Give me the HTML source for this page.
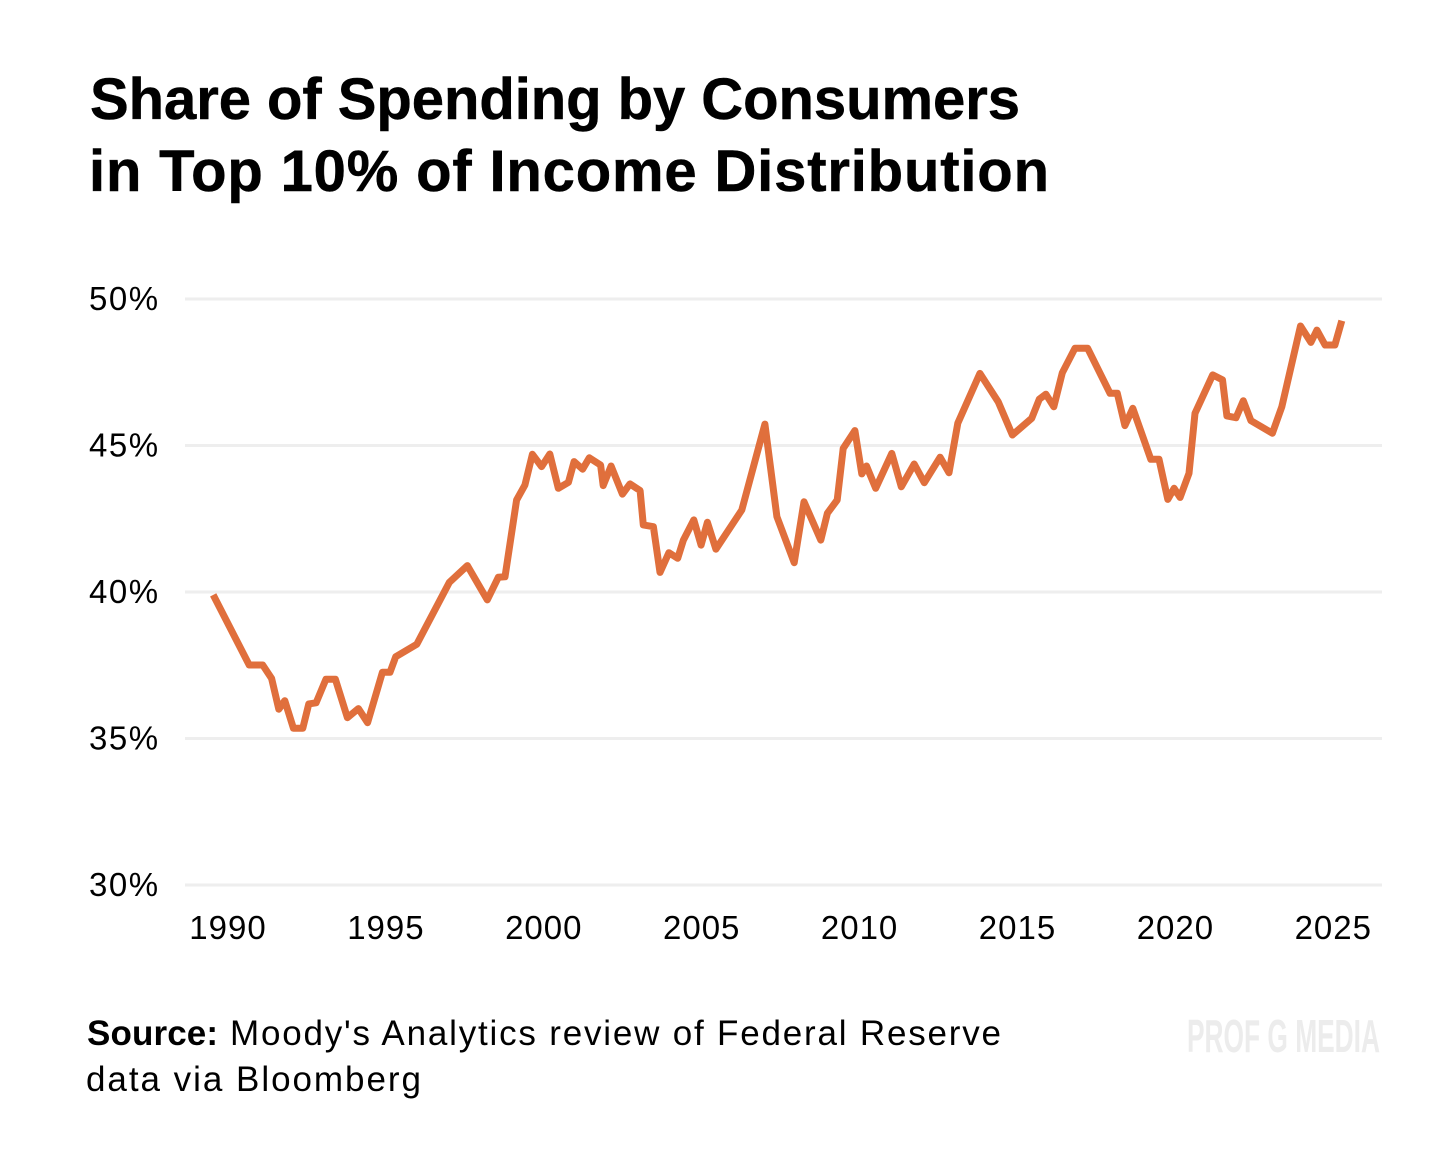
<!DOCTYPE html>
<html lang="en">
<head>
<meta charset="utf-8">
<title>Share of Spending by Consumers in Top 10% of Income Distribution</title>
<style>
html,body{margin:0;padding:0;background:#fff;}
body{width:1456px;height:1165px;overflow:hidden;}
svg{display:block;font-family:"Liberation Sans",sans-serif;}
</style>
</head>
<body>
<svg id="chart" width="1456" height="1165" viewBox="0 0 1456 1165" xmlns="http://www.w3.org/2000/svg">
  <rect width="1456" height="1165" fill="#ffffff"/>
  <text x="90" y="119" font-size="58" font-weight="700" fill="#000" stroke="#000" stroke-width="0.5" textLength="930" lengthAdjust="spacing">Share of Spending by Consumers</text>
  <text x="89" y="191" font-size="58" font-weight="700" fill="#000" stroke="#000" stroke-width="0.5" textLength="960" lengthAdjust="spacing">in Top 10% of Income Distribution</text>
  <g id="grid"></g>
  <g id="y-axis"></g>
  <g id="x-axis"></g>
  <path id="series" fill="none" stroke="#e06f3c" stroke-width="7" stroke-linejoin="round"/>
  <text x="87" y="1045" font-size="35" font-weight="700" fill="#000" textLength="131" lengthAdjust="spacing">Source:</text>
  <text x="230" y="1045" font-size="35" fill="#000" textLength="771" lengthAdjust="spacing">Moody's Analytics review of Federal Reserve</text>
  <text x="86" y="1091" font-size="35" fill="#000" textLength="335" lengthAdjust="spacing">data via Bloomberg</text>
  <text x="1187" y="1052" font-size="46" font-weight="700" fill="#ececec" textLength="193" lengthAdjust="spacingAndGlyphs">PROF G MEDIA</text>
</svg>
<script>
const years = [1989.53,1990.67,1991.10,1991.38,1991.61,1991.80,1992.07,1992.37,1992.56,1992.79,1993.10,1993.40,1993.78,1994.13,1994.42,1994.89,1995.13,1995.31,1995.98,1997.01,1997.58,1998.21,1998.56,1998.77,1999.14,1999.40,1999.64,1999.93,2000.19,2000.46,2000.78,2000.96,2001.23,2001.44,2001.80,2001.88,2002.13,2002.49,2002.73,2003.05,2003.15,2003.47,2003.68,2003.96,2004.24,2004.42,2004.75,2004.98,2005.18,2005.45,2006.27,2007.00,2007.38,2007.93,2008.24,2008.77,2008.98,2009.29,2009.48,2009.85,2010.07,2010.22,2010.51,2011.02,2011.32,2011.73,2012.05,2012.55,2012.83,2013.11,2013.81,2014.39,2014.84,2015.45,2015.69,2015.90,2016.15,2016.42,2016.82,2017.22,2017.93,2018.16,2018.40,2018.65,2019.22,2019.48,2019.76,2019.96,2020.15,2020.43,2020.62,2021.18,2021.49,2021.63,2021.92,2022.15,2022.39,2023.07,2023.37,2023.96,2024.29,2024.48,2024.74,2025.05,2025.27];
const shares = [39.90,37.51,37.51,37.05,36.00,36.29,35.35,35.35,36.18,36.22,37.02,37.02,35.71,36.02,35.54,37.26,37.26,37.79,38.22,40.33,40.90,39.73,40.50,40.52,43.14,43.65,44.70,44.28,44.71,43.54,43.74,44.45,44.19,44.58,44.33,43.63,44.30,43.34,43.69,43.46,42.29,42.23,40.67,41.34,41.15,41.77,42.46,41.60,42.38,41.46,42.80,45.73,42.57,41.00,43.08,41.77,42.69,43.14,44.90,45.51,44.03,44.30,43.54,44.73,43.59,44.37,43.73,44.60,44.07,45.76,47.46,46.49,45.36,45.93,46.58,46.75,46.32,47.48,48.32,48.32,46.78,46.78,45.68,46.27,44.53,44.53,43.16,43.54,43.23,44.05,46.10,47.41,47.24,46.01,45.95,46.53,45.85,45.42,46.32,49.08,48.52,48.94,48.43,48.43,49.26];
const xTickYears = [1990,1995,2000,2005,2010,2015,2020,2025];
const yTickValues = [50,45,40,35,30];

const NS = 'http://www.w3.org/2000/svg';
function xScale(year){ return 228 + (year - 1990) * 31.58; }
function yScale(value){ return 885 - (value - 30) * 29.3; }

const grid = document.getElementById('grid');
const yAxis = document.getElementById('y-axis');
const xAxis = document.getElementById('x-axis');

yTickValues.forEach(function(v){
  const line = document.createElementNS(NS, 'line');
  
  
  line.setAttribute('x1', 185);
  line.setAttribute('x2', 1382);
  line.setAttribute('y1', yScale(v));
  line.setAttribute('y2', yScale(v));
  line.setAttribute('stroke', '#eeeeee');
  line.setAttribute('stroke-width', 3);
  grid.appendChild(line);

  const label = document.createElementNS(NS, 'text');
  
  
  label.setAttribute('x', 89);
  label.setAttribute('y', yScale(v) + 11);
  label.setAttribute('font-size', 33);
  label.setAttribute('letter-spacing', 1.5);
  label.setAttribute('fill', '#000');
  label.textContent = v + '%';
  yAxis.appendChild(label);
});

xTickYears.forEach(function(y){
  const label = document.createElementNS(NS, 'text');
  
  
  label.setAttribute('x', xScale(y));
  label.setAttribute('y', 939);
  label.setAttribute('font-size', 33);
  label.setAttribute('letter-spacing', 1);
  label.setAttribute('text-anchor', 'middle');
  label.setAttribute('fill', '#000');
  label.textContent = y;
  xAxis.appendChild(label);
});

let d = '';
years.forEach(function(yr, i){
  d += (i === 0 ? 'M' : 'L') + xScale(yr).toFixed(1) + ' ' + yScale(shares[i]).toFixed(1);
});
document.getElementById('series').setAttribute('d', d);
</script>
</body>
</html>
